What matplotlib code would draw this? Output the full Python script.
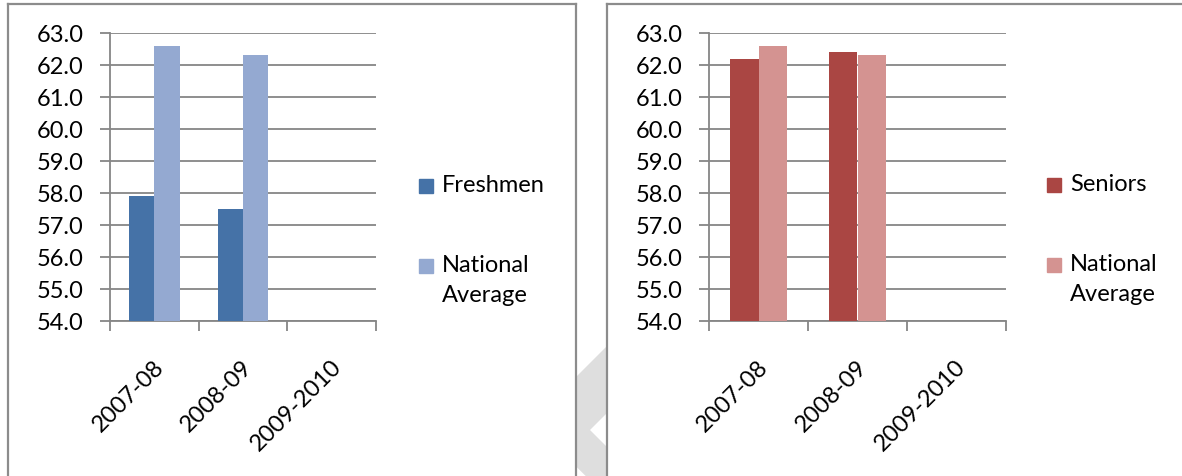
import matplotlib
matplotlib.use("Agg")
import matplotlib.pyplot as plt
from matplotlib.patches import Rectangle, Polygon
from matplotlib.lines import Line2D
from matplotlib.transforms import ScaledTranslation
import numpy as np

plt.rcParams['font.family'] = ['Lato', 'DejaVu Sans']

# Data
years = ["2007-08", "2008-09", "2009-2010"]
freshmen = [57.9, 57.5, np.nan]
national_fresh = [62.6, 62.3, np.nan]
seniors = [62.2, 62.4, np.nan]
national_senior = [62.6, 62.3, np.nan]
y_ticks = [54, 55, 56, 57, 58, 59, 60, 61, 62, 63]

W, H = 1182, 477
fig = plt.figure(figsize=(W / 100, H / 100), dpi=100)
fig.patch.set_facecolor("white")

GRID = "#868686"
FS = 17


def px_rect(x0, y0, x1, y1):
    """Figure-fraction rect from pixel box (y measured from the top)."""
    return [x0 / W, 1 - y1 / H, (x1 - x0) / W, (y1 - y0) / H]


def draw_panel(ax, s1, s2, c1, c2, name1, name2, leg_x, leg_y):
    x = np.arange(len(years))
    bw = 1 / 3.5
    ax.bar(x - bw / 2, s1, width=bw, color=c1, zorder=3, label=name1)
    ax.bar(x + bw / 2, s2, width=bw, color=c2, zorder=3, label=name2)
    ax.set_xlim(-0.5, len(years) - 0.5)
    ax.set_ylim(54, 63)
    ax.set_yticks(y_ticks)
    ax.set_yticklabels([f"{v:.1f}" for v in y_ticks], fontsize=FS)
    ax.yaxis.grid(True, color=GRID, lw=1.3, zorder=0)
    ax.tick_params(axis="y", length=7, width=1.3, color=GRID, pad=12)
    # category boundaries carry tick marks, centers carry labels
    ax.set_xticks(np.arange(len(years) + 1) - 0.5)
    ax.set_xticklabels([])
    ax.set_xticks(x, minor=True)
    ax.set_xticklabels(years, minor=True, fontsize=FS, rotation=45,
                       ha="right", va="center", rotation_mode="anchor")
    ax.tick_params(axis="x", which="major", length=7, width=1.3, color=GRID)
    ax.tick_params(axis="x", which="minor", length=0, pad=30)
    shift = ScaledTranslation(6 / 100, 0, fig.dpi_scale_trans)
    for lbl in ax.get_xticklabels(minor=True):
        lbl.set_transform(lbl.get_transform() + shift)
    for side in ("top", "right"):
        ax.spines[side].set_visible(False)
    for side in ("left", "bottom"):
        ax.spines[side].set_color(GRID)
        ax.spines[side].set_linewidth(1.3)
    ax.set_axisbelow(True)

    # legend: swatch + label, laid out in pixels
    sq = 14
    entries = [(c1, name1, leg_y[0]), (c2, name2, leg_y[1])]
    for col, label, yc in entries:
        fig.patches.append(Rectangle(((leg_x) / W, 1 - (yc + sq / 2) / H),
                                     sq / W, sq / H, transform=fig.transFigure,
                                     color=col, figure=fig))
        fig.text((leg_x + sq + 9) / W, 1 - (yc - 12) / H, label, fontsize=FS,
                 ha="left", va="top", linespacing=1.55)


ax1 = fig.add_axes(px_rect(110, 34, 376, 322))
draw_panel(ax1, freshmen, national_fresh, "#4572A7", "#94A9D1",
           "Freshmen", "National\nAverage", 419, (187, 267))

ax2 = fig.add_axes(px_rect(709, 34, 1006, 322))
draw_panel(ax2, seniors, national_senior, "#AA4643", "#D49391",
           "Seniors", "National\nAverage", 1047, (186, 266))

# light grey chevron in the gap between the two panels
chev = Polygon([((607) / W, 1 - 348 / H), (532 / W, 1 - 423 / H),
                (607 / W, 1 - 497 / H), (607 / W, 1 - 449 / H),
                (589 / W, 1 - 431 / H), (607 / W, 1 - 413 / H)],
               closed=True, transform=fig.transFigure, color="#DEDEDE",
               zorder=0, figure=fig)
clip = Rectangle((576 / W, 0), (607 - 576) / W, 1, transform=fig.transFigure,
                 figure=fig)
chev.set_clip_path(clip)
fig.patches.append(chev)

# panel frames
frame_kw = dict(color="#8C8C8C", lw=1.6, transform=fig.transFigure, figure=fig)
fig.lines.extend([
    Line2D([8 / W, 8 / W], [0, 1 - 5 / H], **frame_kw),
    Line2D([8 / W, 576 / W], [1 - 5 / H, 1 - 5 / H], **frame_kw),
    Line2D([576 / W, 576 / W], [0, 1 - 5 / H], **frame_kw),
    Line2D([607 / W, 607 / W], [0, 1 - 5 / H], **frame_kw),
    Line2D([607 / W, 1], [1 - 5 / H, 1 - 5 / H], **frame_kw),
])

fig.savefig("out.png", dpi=100, facecolor="white")
